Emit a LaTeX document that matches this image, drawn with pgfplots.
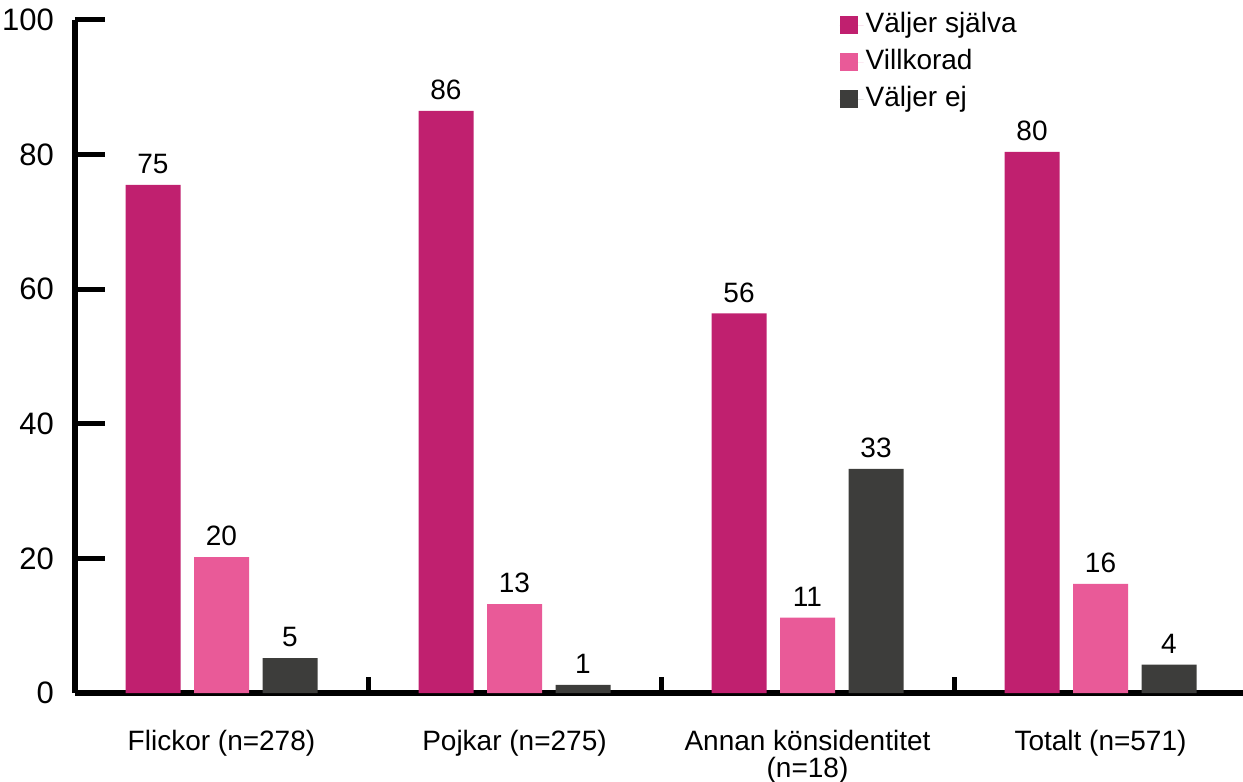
\documentclass[border=0pt]{standalone}
\usepackage{fontspec}
\setmainfont{Liberation Sans}
\usepackage{pgfplots}
\pgfplotsset{compat=1.18}
\definecolor{cSelf}{HTML}{C0206F}
\definecolor{cCond}{HTML}{E95A98}
\definecolor{cNone}{HTML}{3D3D3B}
\begin{document}
\begin{tikzpicture}
\begin{axis}[
  scale only axis,
  width=586pt, height=336.5pt,
  xmin=0, xmax=4, ymin=0, ymax=100,
  axis x line*=bottom, axis y line*=left,
  axis line style={line width=3pt},
  tick align=inside,
  xtick pos=bottom, ytick pos=left,
  ytick={0,20,40,60,80,100},
  major tick length=15pt,
  ytick style={line width=2.5pt, black},
  xtick={0.5,1.5,2.5,3.5},
  xticklabels={Flickor (n=278),Pojkar (n=275),Annan könsidentitet\\(n=18),Totalt (n=571)},
  xtick style={draw=none},
  xticklabel style={font=\fontsize{14}{13.5}\selectfont, align=center, yshift=0pt},
  yticklabel style={font=\fontsize{15.5}{18}\selectfont, xshift=-7pt},
  /pgf/number format/assume math mode=true,
  ybar, bar width=27.5pt,
  every axis plot/.append style={draw=none},
  nodes near coords,
  point meta=explicit symbolic,
  every node near coord/.append style={font=\fontsize{14}{17}\selectfont, text=black, yshift=2pt},
  legend style={draw=none, fill=none, at={(0.647,1.021)}, anchor=north west,
    font=\fontsize{14}{17}\selectfont, row sep=3.5pt,
    nodes={inner sep=1pt, text height=10pt, text depth=3pt}},
  legend cell align=left,
  legend image code/.code={\fill[#1] (0pt,-4.5pt) rectangle (9pt,4.5pt); \path (0pt,0pt) -- (12pt,0pt);},
  clip=false,
]
\addplot[fill=cSelf, bar shift=-34.25pt] table[meta=l, row sep=\\] {
x y l\\ 0.5 75.5 75\\ 1.5 86.5 86\\ 2.5 56.4 56\\ 3.5 80.4 80\\
};
\addlegendentry{Väljer själva}
\addplot[fill=cCond, bar shift=0pt] table[meta=l, row sep=\\] {
x y l\\ 0.5 20.2 20\\ 1.5 13.2 13\\ 2.5 11.2 11\\ 3.5 16.2 16\\
};
\addlegendentry{Villkorad}
\addplot[fill=cNone, bar shift=34.25pt] table[meta=l, row sep=\\] {
x y l\\ 0.5 5.2 5\\ 1.5 1.2 1\\ 2.5 33.3 33\\ 3.5 4.2 4\\
};
\addlegendentry{Väljer ej}
\draw[line width=2.5pt] (axis cs:1,0) -- ++(0,8pt);
\draw[line width=2.5pt] (axis cs:2,0) -- ++(0,8pt);
\draw[line width=2.5pt] (axis cs:3,0) -- ++(0,8pt);
\end{axis}
\pgfresetboundingbox
\path (-37.5pt,-44.5pt) rectangle (584pt,346.5pt);
\end{tikzpicture}
\end{document}
